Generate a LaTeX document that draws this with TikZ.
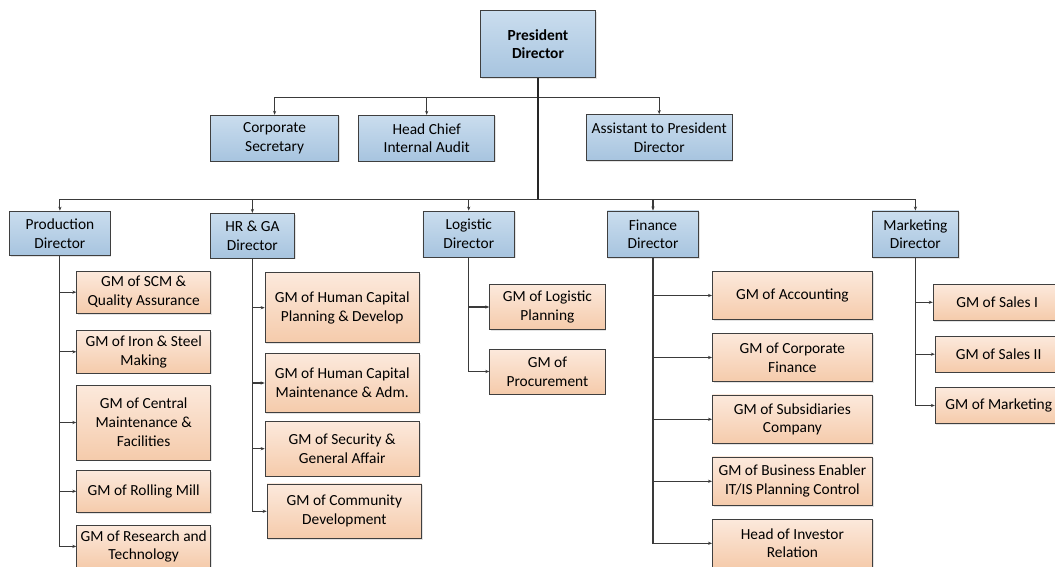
\documentclass[tikz,border=0pt]{standalone}
\usepackage{fontspec}
\setmainfont{Carlito}
\usetikzlibrary{arrows.meta,shadows}

\definecolor{edge}{HTML}{3F3F3F}
\definecolor{blueTop}{HTML}{CADDEE}
\definecolor{blueBot}{HTML}{A7C4DF}
\definecolor{peachTop}{HTML}{FCE9DC}
\definecolor{peachBot}{HTML}{F5CBAB}
\definecolor{wire}{HTML}{3A3A3A}

\tikzset{
  box/.style={draw=edge, line width=0.8pt, align=center, inner sep=1pt,
    font=\fontsize{15.4}{18.8}\selectfont,
    drop shadow={opacity=0.22, shadow xshift=1.2pt, shadow yshift=-1.2pt}},
  mgr/.style={box, top color=blueTop, bottom color=blueBot},
  gm/.style={box, top color=peachTop, bottom color=peachBot},
  dims/.style 2 args={minimum width=#1pt, minimum height=#2pt},
  trunk/.style={draw=black!85, line width=1.8pt},
  wireline/.style={draw=wire, line width=1.15pt},
  feed/.style={wireline, -{Stealth[length=4pt,width=3.2pt]}},
}

\begin{document}
\begin{tikzpicture}[x=1pt,y=-1pt]
\useasboundingbox (0,0) rectangle (1055,567);
\clip (0,0) rectangle (1055,567);

% top management
\node[mgr, dims={115}{67}, font=\fontsize{15.4}{18.8}\selectfont\bfseries] (pres) at (538,44.2) {President\\Director};
\node[mgr, dims={128}{46}] (csec) at (274.6,138.2) {Corporate\\Secretary};
\node[mgr, dims={136}{46}] (audit) at (426.7,138.2) {Head Chief\\Internal Audit};
\node[mgr, dims={146}{46}] (asst) at (659.2,137.5) {Assistant to President\\Director};

% directors
\node[mgr, dims={100.6}{44.7}] (prod) at (59.9,233.4) {Production\\Director};
\node[mgr, dims={84}{44.7}] (hrga) at (252.4,235.7) {HR \& GA\\Director};
\node[mgr, dims={91.6}{46}] (logi) at (468.7,234) {Logistic\\Director};
\node[mgr, dims={91.5}{46.7}] (fin) at (653,234.3) {Finance\\Director};
\node[mgr, dims={86.7}{46.7}] (mkt) at (915.4,234.3) {Marketing\\Director};

% production
\node[gm, dims={134}{42.3}] (scm) at (143.7,292.2) {GM of SCM \&\\Quality Assurance};
\node[gm, dims={134}{42.3}] (iron) at (143.7,351.8) {GM of Iron \& Steel\\Making};
\node[gm, dims={134}{75}] (cmf) at (143.7,422.5) {GM of Central\\Maintenance \&\\Facilities};
\node[gm, dims={134}{42}] (roll) at (143.7,491.3) {GM of Rolling Mill};
\node[gm, dims={134}{42.2}] (rnd) at (143.7,546.4) {GM of Research and\\Technology};

% human resources & general affairs
\node[gm, dims={154.3}{70}] (hcpd) at (342.2,307.7) {GM of Human Capital\\Planning \& Develop};
\node[gm, dims={154.3}{58.6}] (hcma) at (342.2,383) {GM of Human Capital\\Maintenance \& Adm.};
\node[gm, dims={154.3}{54.7}] (secga) at (342.2,448.7) {GM of Security \&\\General Affair};
\node[gm, dims={154.7}{54.7}] (comm) at (344.4,511.3) {GM of Community\\Development};

% logistic
\node[gm, dims={115.4}{45.4}] (lplan) at (547.4,307) {GM of Logistic\\Planning};
\node[gm, dims={115.4}{45}] (proc) at (547.4,371.5) {GM of\\Procurement};

% finance
\node[gm, dims={160}{48.4}] (acc) at (792.4,295.5) {GM of Accounting};
\node[gm, dims={160}{48.4}] (cfin) at (792.4,357.5) {GM of Corporate\\Finance};
\node[gm, dims={160}{48.7}] (subs) at (792.4,419.3) {GM of Subsidiaries\\Company};
\node[gm, dims={160}{48.7}] (bena) at (792.4,481.3) {GM of Business Enabler\\IT/IS Planning Control};
\node[gm, dims={160}{48.6}] (inv) at (792.4,543.3) {Head of Investor\\Relation};

% marketing
\node[gm, dims={128}{36}] (sal1) at (997.2,302.3) {GM of Sales I};
\node[gm, dims={127}{35.7}] (sal2) at (998.7,354.2) {GM of Sales II};
\node[gm, dims={127}{35.6}] (gmmk) at (998.7,405.5) {GM of Marketing};

% bus levels
\coordinate (sbus) at (537.7,97.3);
\coordinate (dbus) at (537.7,199.3);

% president to staff and directors
\draw[feed] (pres.south |- sbus) -| (csec.north);
\draw[feed] (pres.south |- sbus) -| (audit.north);
\draw[feed] (pres.south |- sbus) -| (asst.north);
\foreach \d in {prod,hrga,logi,fin,mkt}
  \draw[feed] (pres.south |- dbus) -| (\d.north);
\draw[trunk] (pres.south) -- (pres.south |- dbus);

% directors to general managers
\foreach \c in {scm,iron,cmf,roll,rnd}
  \draw[feed] (prod.south) |- (\c.west);
\foreach \c in {hcpd,hcma,secga,comm}
  \draw[feed] (hrga.south) |- (\c.west);
\foreach \c in {lplan,proc}
  \draw[feed] (logi.south) |- (\c.west);
\foreach \c in {acc,cfin,subs,bena,inv}
  \draw[feed] (fin.south) |- (\c.west);
\foreach \c in {sal1,sal2,gmmk}
  \draw[feed] (mkt.south) |- (\c.west);
\end{tikzpicture}
\end{document}
